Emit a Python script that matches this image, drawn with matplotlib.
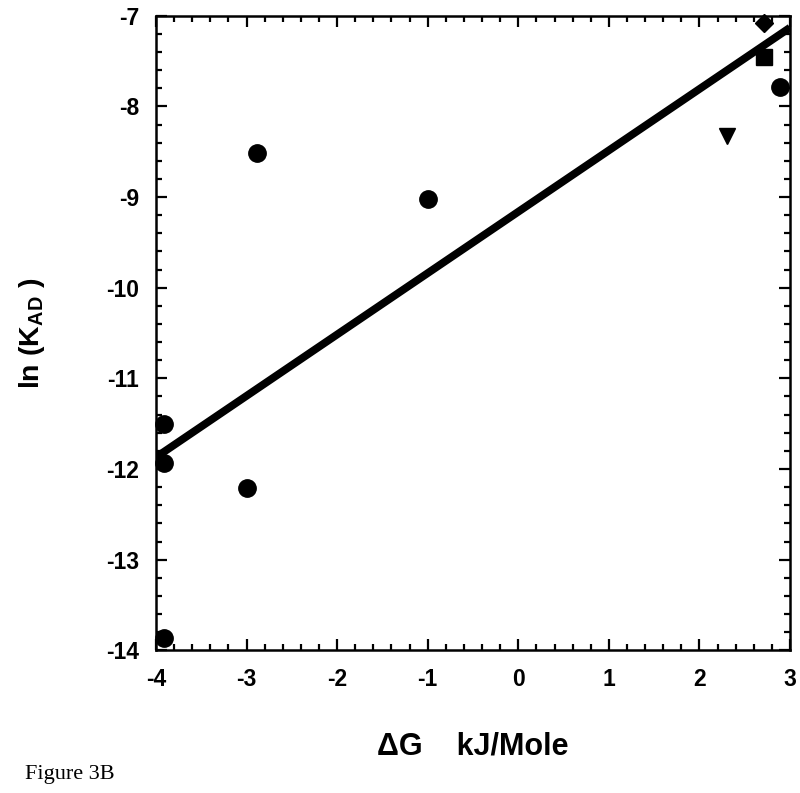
import matplotlib
matplotlib.use("Agg")
import matplotlib.pyplot as plt
from matplotlib.ticker import MultipleLocator

plt.rcParams["font.family"] = ["Liberation Sans", "DejaVu Sans"]
plt.rcParams["mathtext.fontset"] = "custom"
plt.rcParams["mathtext.rm"] = "Liberation Sans:bold"
plt.rcParams["mathtext.bf"] = "Liberation Sans:bold"
plt.rcParams["axes.unicode_minus"] = False

# datos
circulos_x = [-3.91, -3.91, -3.91, -3.0, -2.89, -1.0, 2.89]
circulos_y = [-11.50, -11.93, -13.87, -12.21, -8.51, -9.02, -7.79]
cuadrado_x = [2.71]
cuadrado_y = [-7.45]
rombo_x = [2.71]
rombo_y = [-7.08]
triangulo_x = [2.3]
triangulo_y = [-8.33]

# recta de ajuste
recta_x = [-4, 3]
recta_y = [-11.87, -7.13]

fig = plt.figure(figsize=(8, 7.93), dpi=100)
ax = fig.add_axes([0.195, 0.180, 0.7925, 0.800])

ax.plot(recta_x, recta_y, color="black", lw=5.6, solid_capstyle="butt", zorder=2)
ax.plot(circulos_x, circulos_y, "o", color="black", ms=12.5, zorder=3, clip_on=False)
ax.plot(cuadrado_x, cuadrado_y, "s", color="black", ms=11, zorder=3, clip_on=False)
ax.plot(rombo_x, rombo_y, "D", color="black", ms=9, zorder=3, clip_on=False)
ax.plot(triangulo_x, triangulo_y, "v", color="black", ms=11, zorder=3, clip_on=False)

ax.set_xlim(-4, 3)
ax.set_ylim(-14, -7)
ax.xaxis.set_major_locator(MultipleLocator(1))
ax.xaxis.set_minor_locator(MultipleLocator(0.2))
ax.yaxis.set_major_locator(MultipleLocator(1))
ax.yaxis.set_minor_locator(MultipleLocator(0.2))

ax.tick_params(which="both", direction="in", top=True, right=True, width=1.6)
ax.tick_params(which="major", length=8, labelsize=16.5)
ax.tick_params(axis="y", which="major", pad=12)
ax.tick_params(axis="x", which="major", pad=13)
ax.tick_params(which="minor", length=4)
for lab in ax.get_xticklabels() + ax.get_yticklabels():
    lab.set_fontweight("bold")
for s in ax.spines.values():
    s.set_linewidth(1.8)

ax.set_xlabel("ΔG    kJ/Mole", fontsize=22, fontweight="bold")
ax.xaxis.set_label_coords(0.5, -0.128)
ax.set_ylabel(r"ln (K$_{\mathbf{AD}}$ )", fontsize=20.5, fontweight="bold")
ax.yaxis.set_label_coords(-0.172, 0.5)

fig.text(0.031, 0.023, "Figure 3B", family=["Liberation Serif", "DejaVu Serif"],
         fontsize=16, va="center")

fig.savefig("out.png", dpi=100)
